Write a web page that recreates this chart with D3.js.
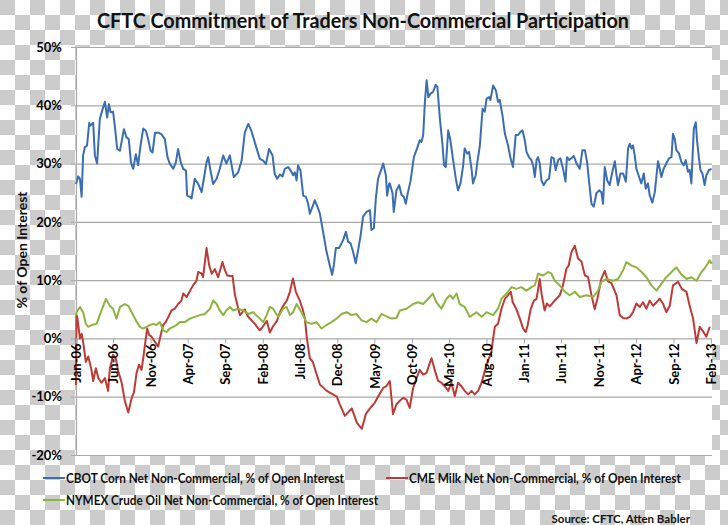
<!DOCTYPE html>
<html>
<head>
<meta charset="utf-8">
<script src="https://cdn.jsdelivr.net/npm/d3@7"></script>
<style>
  html, body { margin: 0; padding: 0; background: #fff; }
  svg { display: block; font-family: Lato, "Open Sans", sans-serif; }
</style>
</head>
<body>
<svg id="chart" width="728" height="525"></svg>
<script>
// ---------------- DATA ----------------
const chartTitle = "CFTC Commitment of Traders Non-Commercial Participation";
const yAxisTitle = "% of Open Interest";
const sourceNote = "Source: CFTC, Atten Babler";
const seriesNames = [
  "CBOT Corn Net Non-Commercial, % of Open Interest",
  "CME Milk Net Non-Commercial, % of Open Interest",
  "NYMEX Crude Oil Net Non-Commercial, % of Open Interest"
];
const tickLabels = ["Jan-06","Jun-06","Nov-06","Apr-07","Sep-07","Feb-08","Jul-08","Dec-08","May-09",
  "Oct-09","Mar-10","Aug-10","Jan-11","Jun-11","Nov-11","Apr-12","Sep-12","Feb-13"];
const yTicks = [-20, -10, 0, 10, 20, 30, 40, 50];

// [months since Jan-2006, % of open interest]
const cornData = [
 [0,26.5],[0.31,27.8],[0.54,27.4],[0.76,24.3],[0.98,31.4],[1.2,32.8],[1.51,33.1],[1.78,37],[1.97,36.5],[2.32,37],
 [2.54,31.4],[2.85,30],[3.21,37.6],[3.57,39.3],[3.88,40.6],[4.19,37.9],[4.42,40.2],[4.64,38.8],[4.99,38.9],[5.22,36.5],
 [5.53,32.5],[5.89,32.2],[6.2,34.2],[6.43,35.9],[6.79,34.5],[7.09,34.2],[7.36,30.2],[7.67,29.1],[8.03,31.6],[8.34,29.7],
 [8.66,33.1],[9.01,36],[9.37,35.6],[9.68,34.2],[10,32.2],[10.27,31.9],[10.58,35.3],[11.02,35.3],[11.47,35],[11.91,34.2],
 [12.28,31.1],[12.58,30],[13.03,29.1],[13.39,30.2],[13.69,32.5],[14.06,30.2],[14.36,29.1],[14.73,28.8],[14.9,24.5],[15.26,24.3],
 [15.49,24],[15.93,27.4],[16.37,26.5],[16.83,25.1],[17.14,27.4],[17.5,30.2],[17.71,31.1],[18.03,28.8],[18.38,26.5],[18.84,27.4],
 [19.28,29.1],[19.72,31.4],[20.17,30],[20.62,31.4],[21.15,27.7],[21.73,28.5],[22.18,30.5],[22.62,35.3],[23.07,36.8],[23.52,35.6],
 [23.96,33.6],[24.63,30.8],[25.07,30.5],[25.43,29.9],[25.88,32.5],[26.33,31.4],[26.64,28.2],[26.95,27.4],[27.31,28.1],[27.67,27.8],
 [27.98,29.1],[28.42,29.4],[28.78,28.8],[29.09,28],[29.32,28.5],[29.54,27.1],[29.76,29.7],[30.08,28.8],[30.43,24.5],[30.79,24.3],
 [31.1,23.1],[31.33,21.4],[31.69,22.6],[31.99,23.7],[32.36,22.6],[32.66,21.4],[33.11,18.3],[33.56,14.9],[34.0,12.6],[34.31,10.9],
 [34.54,12.6],[34.81,15.5],[35.25,15.5],[35.57,16.3],[35.78,16.9],[36.14,18.3],[36.45,16.6],[36.77,16.3],[37.12,14.9],[37.48,12.9],
 [37.79,15.2],[38.11,17.4],[38.46,20.9],[38.91,21.7],[39.36,22],[39.58,18.6],[39.89,18.9],[40.16,24],[40.47,27.4],[40.92,29.1],
 [41.14,30],[41.5,28],[41.67,24.5],[41.94,26.5],[42.03,26.6],[42.4,24.9],[42.57,21.7],[42.93,25.4],[43.28,26.3],[43.6,24.6],
 [43.91,24.3],[44.18,23.1],[44.48,25.1],[44.8,26.9],[45.25,31.1],[45.69,32.6],[46.05,34],[46.27,33.7],[46.49,34.9],[46.72,40.6],
 [46.95,44.3],[47.21,41.4],[47.48,42],[47.83,42.3],[48.19,43.5],[48.42,43.1],[48.73,37.7],[49.09,33.1],[49.3,29.7],[49.53,29.4],
 [49.84,35.7],[50.16,34],[50.51,30.6],[50.87,27.4],[51.18,25.4],[51.5,26.6],[51.85,29.7],[52.07,32.6],[52.38,31.7],[52.65,32],
 [52.97,29.1],[53.19,26.6],[53.55,28],[53.72,30],[54.08,33.1],[54.44,39.4],[54.75,38.9],[54.98,41.1],[55.33,41.4],[55.51,40.9],
 [55.87,43.4],[56.22,42.6],[56.53,40.6],[56.76,40.9],[57.12,38.3],[57.43,35.1],[57.87,33.1],[58.19,30.9],[58.54,29.4],[58.9,34.9],
 [59.21,34.9],[59.53,35.4],[59.8,35.7],[60.11,34],[60.33,32],[60.68,31.1],[61.0,30.6],[61.22,29.7],[61.45,27.7],[61.67,30.6],
 [61.89,31.1],[62.12,30],[62.34,27.1],[62.65,26.3],[63.01,27.1],[63.36,27.4],[63.68,31.1],[63.99,30.9],[64.26,28.9],[64.57,30.6],
 [64.88,30.9],[65.23,29.1],[65.56,26.9],[65.77,31.1],[66.04,30.6],[66.36,30.9],[66.67,31.3],[67.03,30],[67.47,29.1],[67.83,32.3],
 [68.14,32.3],[68.45,30.3],[68.72,26.9],[69.03,23.1],[69.34,22.6],[69.7,24.9],[70.05,25.4],[70.37,25.1],[70.59,23.1],[70.82,29.4],
 [71.13,27.1],[71.49,26.3],[71.85,28.6],[72.16,30.4],[72.38,28],[72.6,26.3],[72.91,28.3],[73.27,28.3],[73.63,26.9],[73.94,32.6],
 [74.16,33.4],[74.39,32.6],[74.6,33.1],[74.83,31.4],[75.06,29.1],[75.41,27.7],[75.72,26.6],[76.04,28.3],[76.31,25.7],[76.61,26.6],
 [76.84,24.6],[77.2,23.3],[77.51,25.1],[77.74,28],[77.95,30.4],[78.18,29.1],[78.41,27.7],[78.71,29.1],[79.07,30],[79.42,30.9],
 [79.74,31.1],[79.96,35.1],[80.19,34.3],[80.42,32.3],[80.76,31.7],[81.08,30.3],[81.39,29.7],[81.66,30.6],[81.97,28.6],[82.19,28.9],
 [82.42,26.6],[82.73,36],[83.0,37.1],[83.17,34],[83.44,30.9],[83.63,28.9],[83.9,28.3],[84.2,26.3],[84.42,28],[84.78,28.9],[85.1,29.1]
];

const milkData = [
 [0,-8],[0.09,4],[0.18,3.7],[0.54,0],[0.76,0.8],[0.98,-0.6],[1.34,-4],[1.65,-3.1],[2.1,-5.4],[2.32,-7.3],
 [2.68,-5.1],[2.99,-6.8],[3.44,-7.6],[3.88,-6.8],[4.33,-9],[4.55,-5.1],[4.78,-4],[4.99,-2.8],[5.35,-3.4],[5.67,-5.6],
 [6.12,-7.6],[6.56,-10.7],[7.0,-12.7],[7.46,-10.2],[7.76,-9.3],[8.12,-5.9],[8.47,-4.5],[8.8,-5.4],[9.01,-3.4],[9.24,-1.1],
 [9.55,1.7],[9.81,0.6],[10.13,0.3],[10.58,-0.6],[11.02,-1.4],[11.24,0],[11.69,2.3],[12.05,2.8],[12.49,4],[12.81,4.8],
 [13.25,5.1],[13.69,5.9],[14.15,6.5],[14.37,7.7],[14.82,7.1],[15.7,9.1],[16.16,9.9],[16.37,11.4],[16.83,11.1],[17.04,10.5],
 [17.5,15.5],[17.85,12.5],[18.17,11.1],[18.61,11.9],[19.05,10.5],[19.63,13.1],[19.95,11.7],[20.26,10.8],[20.71,10.7],[20.97,10.7],
 [21.29,7.4],[21.95,4],[22.62,5],[23.03,3.8],[23.96,2.5],[24.63,1.4],[25.03,2],[25.57,3],[25.97,1],[26.37,2],
 [26.91,3],[27.31,4.5],[27.71,5.5],[28.25,6.5],[28.65,8],[29.05,10.3],[29.45,8],[29.99,6.5],[30.39,5],[30.66,3.4],
 [30.92,0],[31.33,-3.4],[31.73,-4],[32.26,-6.2],[32.66,-7.9],[33.6,-9],[34.4,-9.6],[34.94,-10],[35.34,-11.3],[36.01,-13.3],
 [36.95,-12],[37.62,-14.5],[38.29,-15.5],[38.82,-13],[39.36,-12],[40.03,-11],[40.7,-9.5],[41.14,-8.5],[41.59,-8.2],[42.03,-7.3],
 [42.48,-13],[42.93,-11.3],[43.37,-10.7],[43.82,-10.2],[44.27,-10.5],[44.71,-11.9],[45.15,-8.5],[45.61,-6.8],[46.05,-5.4],[46.49,-6.2],
 [46.95,-5.9],[47.39,-4.2],[47.62,-3.4],[48.06,-5.4],[48.5,-7.3],[48.95,-7.6],[49.4,-8.2],[49.84,-9],[50.29,-7.6],[50.74,-9.9],
 [51.18,-7.6],[51.63,-8.2],[52.07,-9],[52.52,-9.6],[52.97,-9],[53.41,-9.6],[53.86,-9],[54.31,-7.6],[54.75,-5.6],[55.19,-3.9],
 [55.65,-2.3],[55.86,0],[56.09,2],[56.53,2.5],[56.99,5.1],[57.43,6.8],[57.83,7.4],[58.23,8],[58.5,6.2],[59,5],
 [59.44,3.4],[59.88,1.7],[60.24,1.1],[60.51,2.3],[60.91,5],[61.31,6.5],[61.67,6.8],[62.12,10.2],[62.38,7.5],[62.78,4.8],
 [63.05,6],[63.45,5.5],[64.12,6.5],[64.79,7.4],[65.19,9],[65.69,12],[66,12.5],[66.36,14.8],[66.8,15.9],[67.24,13.7],
 [67.7,13.2],[68.14,10.8],[68.58,10.5],[69.03,7.4],[69.48,5],[69.88,7],[70.37,10.2],[70.82,11.6],[71.26,9.8],[71.71,9.5],
 [72.38,7.4],[72.82,4],[73.27,3.5],[73.72,3.4],[74.16,3.7],[74.61,4.5],[75.06,6],[75.5,5.4],[75.94,6.2],[76.4,5.1],
 [76.84,6.5],[77.28,5.6],[77.74,6.2],[78.18,6.8],[78.62,6],[79.08,4.5],[79.52,5.6],[79.96,9.1],[80.63,9.7],[81.12,8.5],
 [81.75,8],[82.19,5.6],[82.64,3.4],[83.09,-0.8],[83.53,2],[83.98,1.2],[84.43,0.3],[84.87,2]
];

const crudeData = [
 [0,4],[0.09,4.5],[0.54,5.4],[0.98,4.5],[1.34,2.5],[1.65,2],[2.1,2.3],[2.77,2.5],[3.21,4],[3.65,5.6],
 [4.02,6.8],[4.55,5.6],[4.99,5.1],[5.45,3.4],[5.89,5.4],[6.56,5.9],[7.0,5.6],[7.46,4.5],[8.03,3.1],[8.57,2],
 [9.01,1.7],[9.46,2],[9.91,2.3],[10.35,2.5],[10.8,2.3],[11.24,2.8],[11.69,1.4],[12.14,1.1],[12.58,1.7],[13.03,2],
 [13.48,2.3],[13.92,2.8],[14.59,2.8],[15.26,3.4],[15.93,3.7],[16.6,4],[17.27,4.2],[17.94,5.1],[18.38,6.5],[18.84,5.9],
 [19.28,4.8],[19.72,4],[20.17,4.8],[20.62,5.4],[21.06,4.8],[21.73,5.1],[22.4,4.8],[23.07,4.2],[23.73,4.5],[24.4,3.7],
 [25.07,2.8],[25.53,4],[25.97,5.4],[26.41,5.1],[27.08,3.7],[27.75,5.1],[28.21,5.4],[28.65,4],[29.09,4.5],[29.54,5.9],
 [30.21,4.5],[30.88,2.8],[31.55,2.5],[32.22,2.8],[32.89,1.7],[33.56,2.3],[34.23,2.8],[34.9,3.4],[35.57,4.2],[36.24,4.5],
 [36.91,4],[37.58,4.2],[38.25,3.1],[38.92,2.8],[39.58,3.4],[40.25,2.8],[40.92,4.2],[41.59,3.8],[42.26,3.4],[42.93,3.5],
 [43.37,4.8],[44.27,5.1],[45.15,5.9],[45.82,6.2],[46.49,5.9],[47.39,7.1],[47.79,7.7],[48.29,6.2],[48.95,5.1],[49.62,6.8],
 [50.07,7.4],[50.51,6.8],[50.96,7.7],[51.41,5.9],[52.07,5.4],[52.74,3.7],[53.64,4.5],[54.31,3.7],[54.98,4.5],[55.86,4],
 [56.53,5.1],[56.99,6.8],[57.43,7.4],[57.83,8],[58.32,8.8],[58.99,8.5],[59.66,8.8],[60.33,8.2],[61.0,8.8],[61.45,9.1],
 [61.89,11.1],[62.56,10.8],[63.23,11.4],[63.68,11.1],[64.12,9.9],[64.79,9.1],[65.46,8],[66.13,7.4],[66.8,8],[67.47,7.1],
 [68.37,7.4],[69.25,7.1],[69.92,8.2],[70.37,9.7],[71.04,10.2],[71.93,9.9],[72.6,10.2],[73.27,11.7],[73.72,13.1],[74.39,12.5],
 [75.06,12.2],[75.73,11.4],[76.4,10.5],[77.07,9.1],[77.74,8.2],[78.41,9.4],[79.08,10.5],[79.74,11.4],[80.41,12.2],[81.08,11],
 [81.75,10.2],[82.42,10.5],[83.09,9.9],[83.76,11.4],[84.2,12],[84.87,13.4],[85.14,12.8]
];

const seriesColors = ["#3b6db3", "#be3a36", "#8db43e"];

// ---------------- CHART ----------------
const svg = d3.select("#chart");
const W = 728, H = 525;
const plot = { left: 76, right: 712, top: 47, bottom: 455 };

// checkerboard backdrop
const defs = svg.append("defs");
const pat = defs.append("pattern").attr("id", "checks").attr("patternUnits", "userSpaceOnUse")
  .attr("width", 30).attr("height", 30);
pat.append("rect").attr("width", 30).attr("height", 30).attr("fill", "#ffffff");
pat.append("rect").attr("x", 0).attr("y", 0).attr("width", 15).attr("height", 15).attr("fill", "#cccccc");
pat.append("rect").attr("x", 15).attr("y", 15).attr("width", 15).attr("height", 15).attr("fill", "#cccccc");
svg.append("rect").attr("width", W).attr("height", H).attr("fill", "url(#checks)");

svg.append("rect").attr("x", plot.left).attr("y", plot.top)
  .attr("width", plot.right - plot.left).attr("height", plot.bottom - plot.top).attr("fill", "#fff");

const parseTick = d3.timeParse("%b-%y");
const fmtTick = d3.timeFormat("%b-%y");
const tickDates = tickLabels.map(parseTick);
const start = tickDates[0];
const toDate = m => d3.timeDay.offset(start, m * 30.4375);

const x = d3.scaleTime().domain([tickDates[0], tickDates[tickDates.length - 1]]).range([plot.left, 711]);
const y = d3.scaleLinear().domain([-20, 50]).range([plot.bottom, plot.top]);

// gridlines
svg.append("g").attr("transform", `translate(${plot.left},0)`)
  .call(d3.axisLeft(y).tickValues(yTicks).tickSize(-(plot.right - plot.left)).tickFormat(""))
  .call(g => g.select(".domain").remove())
  .call(g => g.selectAll("line").attr("stroke", "#a9a9a9").attr("stroke-width", 1.2));

// y axis
const yAxis = svg.append("g").attr("transform", `translate(${plot.left},0)`)
  .call(d3.axisLeft(y).tickValues(yTicks).tickSize(5).tickPadding(9).tickFormat(d => d + "%"));
yAxis.select(".domain").attr("stroke", "#a9a9a9").attr("stroke-width", 1.2);
yAxis.selectAll("line").attr("stroke", "#a9a9a9");
yAxis.selectAll("text").attr("font-size", 13).attr("font-weight", "bold").attr("fill", "#000")
  .attr("font-family", "Lato, sans-serif");

// lines
const line = d3.line().x(d => x(toDate(d[0]))).y(d => y(d[1]));
[cornData, milkData, crudeData].forEach((data, i) => {
  svg.append("path").datum(data).attr("d", line).attr("fill", "none")
    .attr("stroke", seriesColors[i]).attr("stroke-width", 2).attr("stroke-linejoin", "round");
});

// x axis at 0%
const xAxis = svg.append("g").attr("transform", `translate(0,${y(0)})`)
  .call(d3.axisBottom(x).tickValues(tickDates).tickSize(5).tickFormat(fmtTick));
xAxis.select(".domain").remove();
xAxis.selectAll("line").attr("stroke", "#a9a9a9");
xAxis.selectAll("text")
  .attr("transform", "rotate(-90)")
  .attr("text-anchor", "end")
  .attr("x", -5).attr("y", 0).attr("dy", "0.36em")
  .attr("font-size", 13).attr("font-weight", "bold").attr("fill", "#000")
  .attr("font-family", "Lato, sans-serif");

// title
svg.append("text").attr("x", 363).attr("y", 28).attr("text-anchor", "middle")
  .attr("font-size", 20).attr("font-weight", "bold").attr("fill", "#111")
  .attr("textLength", 532).attr("lengthAdjust", "spacingAndGlyphs")
  .text(chartTitle);

// y axis title
svg.append("text").attr("transform", "translate(27,250) rotate(-90)").attr("text-anchor", "middle")
  .attr("font-size", 14).attr("font-weight", "bold").attr("fill", "#111")
  .text(yAxisTitle);

// legend
const legendItems = [
  { x: 43, y: 478, len: 278 },
  { x: 386, y: 478, len: 272 },
  { x: 43, y: 500, len: 312 }
];
legendItems.forEach((it, i) => {
  svg.append("line").attr("x1", it.x).attr("x2", it.x + 22).attr("y1", it.y).attr("y2", it.y)
    .attr("stroke", seriesColors[i]).attr("stroke-width", 2);
  svg.append("text").attr("x", it.x + 23).attr("y", it.y).attr("dy", "0.35em")
    .attr("font-size", 13).attr("font-weight", "bold").attr("fill", "#111")
    .attr("textLength", it.len).attr("lengthAdjust", "spacingAndGlyphs")
    .text(seriesNames[i]);
});

svg.append("text").attr("x", 690).attr("y", 519).attr("dy", "0.35em").attr("text-anchor", "end")
  .attr("font-size", 11.5).attr("font-weight", "bold").attr("fill", "#111")
  .text(sourceNote);
</script>
</body>
</html>
